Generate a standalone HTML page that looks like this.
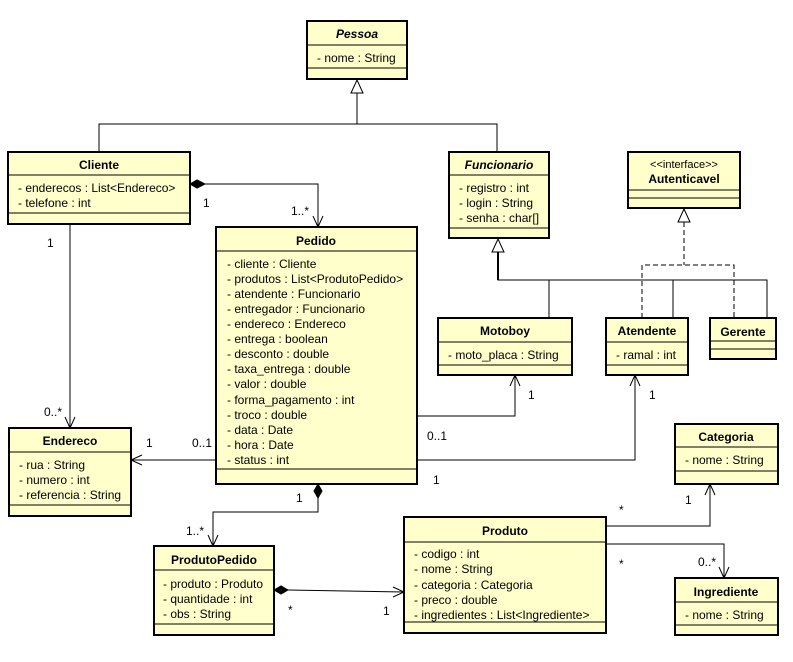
<!DOCTYPE html>
<html><head><meta charset="utf-8"><style>
html,body{margin:0;padding:0;background:#fff;}
svg{display:block;font-family:"Liberation Sans",sans-serif;font-size:12px;}
.b{fill:#ffffcc;stroke:#000;stroke-width:2}
.d{stroke:#000;stroke-width:1}
.l{fill:none;stroke:#000;stroke-width:1}
.t{font-weight:bold;text-anchor:middle}
</style></head><body>
<svg width="793" height="662" viewBox="0 0 793 662">
<!-- connectors -->
<polyline class="l" points="99,152 99,124 497,124 497,152"/>
<line class="d" x1="357" y1="93" x2="357" y2="124"/>
<polygon points="357,80 351,93 363,93" fill="#fff" stroke="#000"/>

<polyline class="l" points="205,184 318,184 318,227"/>
<polygon points="190,184 197,180 205,184 197,188" fill="#000" stroke="#000"/>
<polyline class="l" points="313,216 318,227 323,216"/>

<line class="d" x1="70" y1="224" x2="70" y2="428"/>
<polyline class="l" points="65,417 70,428 75,417"/>

<polyline class="l" points="498,252 498,280 767,280 767,318" style="stroke-width:1"/>
<line x1="498" y1="252" x2="498" y2="280" stroke="#000" stroke-width="2"/>
<line class="d" x1="549" y1="280" x2="549" y2="318"/>
<line class="d" x1="673" y1="280" x2="673" y2="318"/>
<polygon points="498,239 492,252 504,252" fill="#fff" stroke="#000"/>

<polyline class="l" points="684,222 684,265" stroke-dasharray="5,3"/>
<polyline class="l" points="642,318 642,265 734,265 734,318" stroke-dasharray="5,3"/>
<polygon points="684,209 678,222 690,222" fill="#fff" stroke="#000"/>

<polyline class="l" points="417,416 515,416 515,375"/>
<polyline class="l" points="510,386 515,375 520,386"/>
<polyline class="l" points="417,460 635,460 635,375"/>
<polyline class="l" points="630,386 635,375 640,386"/>
<line class="d" x1="216" y1="460" x2="131" y2="460"/>
<polyline class="l" points="142,455 131,460 142,465"/>

<polyline class="l" points="318,498 318,512 213,512 213,546"/>
<polygon points="318,484 322,491 318,498 314,491" fill="#000" stroke="#000"/>
<polyline class="l" points="208,535 213,546 218,535"/>

<line class="d" x1="288" y1="590" x2="404" y2="592"/>
<polygon points="274,590 281,586 288,590 281,594" fill="#000" stroke="#000"/>
<polyline class="l" points="393,587 404,592 393,597"/>

<polyline class="l" points="606,526 710,526 710,484"/>
<polyline class="l" points="705,495 710,484 715,495"/>
<polyline class="l" points="606,544 724,544 724,578"/>
<polyline class="l" points="719,567 724,578 729,567"/>

<!-- labels -->
<g>
<text x="203" y="207">1</text>
<text x="291" y="215">1..*</text>
<text x="47" y="247">1</text>
<text x="44" y="416">0..*</text>
<text x="146" y="447">1</text>
<text x="192" y="447">0..1</text>
<text x="528" y="399">1</text>
<text x="427" y="440">0..1</text>
<text x="649" y="399">1</text>
<text x="433" y="484">1</text>
<text x="296" y="502">1</text>
<text x="186" y="535">1..*</text>
<text x="288" y="614">*</text>
<text x="383" y="615">1</text>
<text x="619" y="514">*</text>
<text x="685" y="504">1</text>
<text x="619" y="568">*</text>
<text x="698" y="566">0..*</text>
</g>

<!-- Pessoa -->
<rect class="b" x="307" y="21" width="100" height="58"/>
<line class="d" x1="307" y1="45" x2="407" y2="45"/><line class="d" x1="307" y1="68" x2="407" y2="68"/>
<text class="t" x="357" y="38" font-style="italic">Pessoa</text>
<text x="317" y="62">- nome : String</text>

<!-- Cliente -->
<rect class="b" x="8" y="152" width="182" height="72"/>
<line class="d" x1="8" y1="175" x2="190" y2="175"/><line class="d" x1="8" y1="213" x2="190" y2="213"/>
<text class="t" x="99" y="169">Cliente</text>
<text x="18" y="192">- enderecos : List&lt;Endereco&gt;</text>
<text x="18" y="207">- telefone : int</text>

<!-- Funcionario -->
<rect class="b" x="449" y="152" width="100" height="86"/>
<line class="d" x1="449" y1="175" x2="549" y2="175"/><line class="d" x1="449" y1="228" x2="549" y2="228"/>
<text class="t" x="499" y="169" font-style="italic">Funcionario</text>
<text x="459" y="192">- registro : int</text>
<text x="459" y="207">- login : String</text>
<text x="459" y="222">- senha : char[]</text>

<!-- Autenticavel -->
<rect class="b" x="628" y="152" width="112" height="56"/>
<line class="d" x1="628" y1="190" x2="740" y2="190"/><line class="d" x1="628" y1="198" x2="740" y2="198"/>
<text x="684" y="168" text-anchor="middle" font-size="11">&lt;&lt;interface&gt;&gt;</text>
<text class="t" x="684" y="183">Autenticavel</text>

<!-- Motoboy -->
<rect class="b" x="438" y="318" width="134" height="57"/>
<line class="d" x1="438" y1="342" x2="572" y2="342"/><line class="d" x1="438" y1="365" x2="572" y2="365"/>
<text class="t" x="505" y="335">Motoboy</text>
<text x="448" y="359">- moto_placa : String</text>

<!-- Atendente -->
<rect class="b" x="606" y="318" width="82" height="57"/>
<line class="d" x1="606" y1="342" x2="688" y2="342"/><line class="d" x1="606" y1="365" x2="688" y2="365"/>
<text class="t" x="647" y="335">Atendente</text>
<text x="616" y="359">- ramal : int</text>

<!-- Gerente -->
<rect class="b" x="710" y="318" width="66" height="41"/>
<line class="d" x1="710" y1="341" x2="776" y2="341"/><line class="d" x1="710" y1="349" x2="776" y2="349"/>
<text class="t" x="743" y="336">Gerente</text>

<!-- Pedido -->
<rect class="b" x="216" y="227" width="201" height="257"/>
<line class="d" x1="216" y1="251" x2="417" y2="251"/><line class="d" x1="216" y1="469" x2="417" y2="469"/>
<text class="t" x="316" y="245">Pedido</text>
<g>
<text x="227" y="268">- cliente : Cliente</text>
<text x="227" y="283">- produtos : List&lt;ProdutoPedido&gt;</text>
<text x="227" y="298">- atendente : Funcionario</text>
<text x="227" y="313">- entregador : Funcionario</text>
<text x="227" y="328">- endereco : Endereco</text>
<text x="227" y="343">- entrega : boolean</text>
<text x="227" y="358">- desconto : double</text>
<text x="227" y="373">- taxa_entrega : double</text>
<text x="227" y="388">- valor : double</text>
<text x="227" y="404">- forma_pagamento : int</text>
<text x="227" y="419">- troco : double</text>
<text x="227" y="434">- data : Date</text>
<text x="227" y="449">- hora : Date</text>
<text x="227" y="464">- status : int</text>
</g>

<!-- Endereco -->
<rect class="b" x="9" y="428" width="122" height="88"/>
<line class="d" x1="9" y1="452" x2="131" y2="452"/><line class="d" x1="9" y1="505" x2="131" y2="505"/>
<text class="t" x="70" y="445">Endereco</text>
<text x="19" y="469">- rua : String</text>
<text x="19" y="484">- numero : int</text>
<text x="19" y="499">- referencia : String</text>

<!-- Categoria -->
<rect class="b" x="675" y="424" width="103" height="60"/>
<line class="d" x1="675" y1="447" x2="778" y2="447"/><line class="d" x1="675" y1="471" x2="778" y2="471"/>
<text class="t" x="726" y="441">Categoria</text>
<text x="685" y="464">- nome : String</text>

<!-- Produto -->
<rect class="b" x="404" y="517" width="202" height="116"/>
<line class="d" x1="404" y1="542" x2="606" y2="542"/><line class="d" x1="404" y1="622" x2="606" y2="622"/>
<text class="t" x="505" y="535">Produto</text>
<text x="414" y="558">- codigo : int</text>
<text x="414" y="573">- nome : String</text>
<text x="414" y="589">- categoria : Categoria</text>
<text x="414" y="604">- preco : double</text>
<text x="414" y="619">- ingredientes : List&lt;Ingrediente&gt;</text>

<!-- ProdutoPedido -->
<rect class="b" x="154" y="546" width="120" height="89"/>
<line class="d" x1="154" y1="570" x2="274" y2="570"/><line class="d" x1="154" y1="624" x2="274" y2="624"/>
<text class="t" x="214" y="564">ProdutoPedido</text>
<text x="163" y="588">- produto : Produto</text>
<text x="163" y="603">- quantidade : int</text>
<text x="163" y="618">- obs : String</text>

<!-- Ingrediente -->
<rect class="b" x="675" y="578" width="103" height="57"/>
<line class="d" x1="675" y1="602" x2="778" y2="602"/><line class="d" x1="675" y1="625" x2="778" y2="625"/>
<text class="t" x="726" y="596">Ingrediente</text>
<text x="685" y="619">- nome : String</text>
</svg>
</body></html>
